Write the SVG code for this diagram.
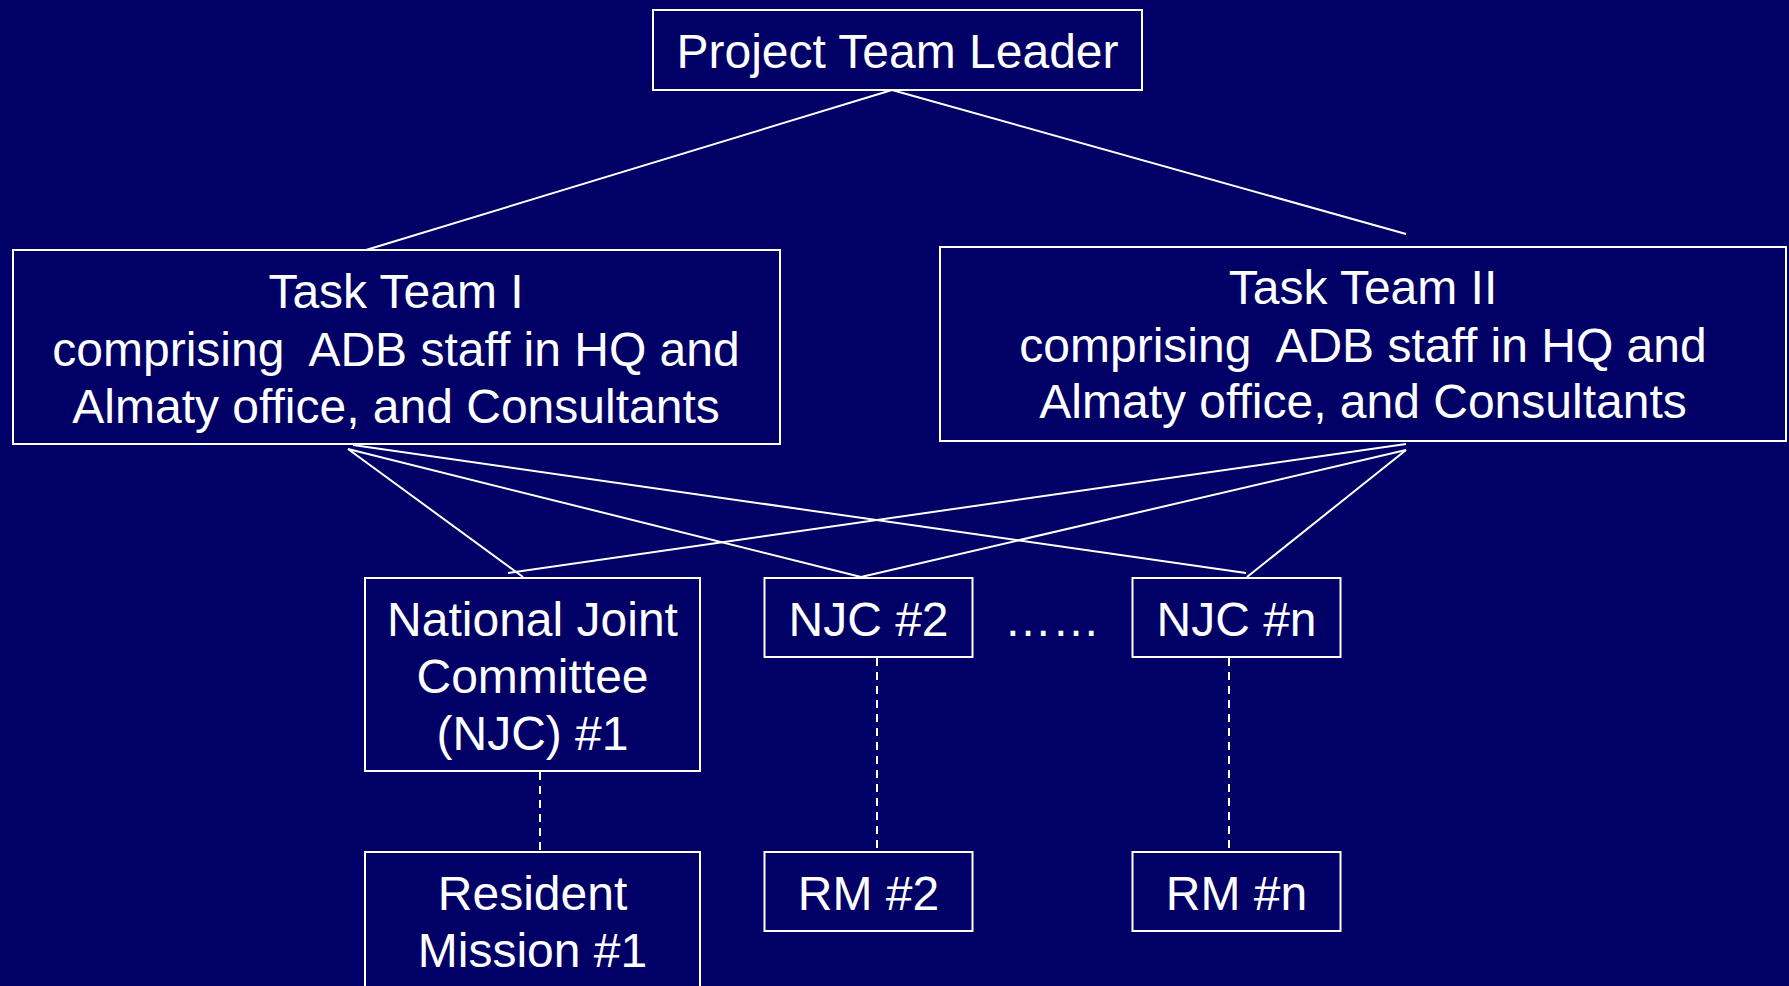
<svg xmlns="http://www.w3.org/2000/svg" width="1789" height="986" viewBox="0 0 1789 986">
<style>
.box{fill:#000066;stroke:#ffffff;stroke-width:2}
.t{font-family:"Liberation Sans",Arial,sans-serif;font-size:48px;fill:#ffffff;text-anchor:middle}
.ln{stroke:#ffffff;stroke-width:2;fill:none}
.dash{stroke:#ffffff;stroke-width:2;fill:none;stroke-dasharray:8,6}
</style>
<rect x="0" y="0" width="1789" height="986" fill="#000066"/>
<g id="connectors">
<line class="ln" x1="892" y1="90" x2="366" y2="250"/>
<line class="ln" x1="892" y1="90" x2="1406" y2="234"/>
<line class="ln" x1="348" y1="449" x2="523" y2="577"/>
<line class="ln" x1="348" y1="449" x2="861" y2="577"/>
<line class="ln" x1="353" y1="445" x2="1246" y2="573"/>
<line class="ln" x1="1406" y1="444" x2="508" y2="573"/>
<line class="ln" x1="1406" y1="450" x2="861" y2="577"/>
<line class="ln" x1="1406" y1="450" x2="1247" y2="577"/>
<line class="dash" x1="540" y1="772" x2="540" y2="852"/>
<line class="dash" x1="877" y1="658" x2="877" y2="852"/>
<line class="dash" x1="1229" y1="658" x2="1229" y2="852"/>
</g>
<g id="ptl">
<rect class="box" x="653" y="10" width="489" height="80"/>
<text class="t" x="897.5" y="68">Project Team Leader</text>
</g>
<g id="tt1">
<rect class="box" x="13" y="250" width="767" height="194"/>
<text class="t" x="396" y="308">Task Team I</text>
<text class="t" x="396" y="365.5" xml:space="preserve">comprising  ADB staff in HQ and</text>
<text class="t" x="396" y="423">Almaty office, and Consultants</text>
</g>
<g id="tt2">
<rect class="box" x="940" y="247" width="846" height="194"/>
<text class="t" x="1363" y="304">Task Team II</text>
<text class="t" x="1363" y="361.5" xml:space="preserve">comprising  ADB staff in HQ and</text>
<text class="t" x="1363" y="418">Almaty office, and Consultants</text>
</g>
<g id="njc1">
<rect class="box" x="365" y="578" width="335" height="193"/>
<text class="t" x="532.5" y="636">National Joint</text>
<text class="t" x="532.5" y="693">Committee</text>
<text class="t" x="532.5" y="750">(NJC) #1</text>
</g>
<g id="njc2">
<rect class="box" x="764.5" y="578" width="208" height="79"/>
<text class="t" x="868.5" y="636">NJC #2</text>
</g>
<g id="ellipsis">
<text class="t" x="1052" y="636">……</text>
</g>
<g id="njcn">
<rect class="box" x="1132.5" y="578" width="208" height="79"/>
<text class="t" x="1236.5" y="636">NJC #n</text>
</g>
<g id="rm1">
<rect class="box" x="365" y="852" width="335" height="160"/>
<text class="t" x="532.5" y="910">Resident</text>
<text class="t" x="532.5" y="967">Mission #1</text>
</g>
<g id="rm2">
<rect class="box" x="764.5" y="852" width="208" height="79"/>
<text class="t" x="868.5" y="910">RM #2</text>
</g>
<g id="rmn">
<rect class="box" x="1132.5" y="852" width="208" height="79"/>
<text class="t" x="1236.5" y="910">RM #n</text>
</g>
</svg>
